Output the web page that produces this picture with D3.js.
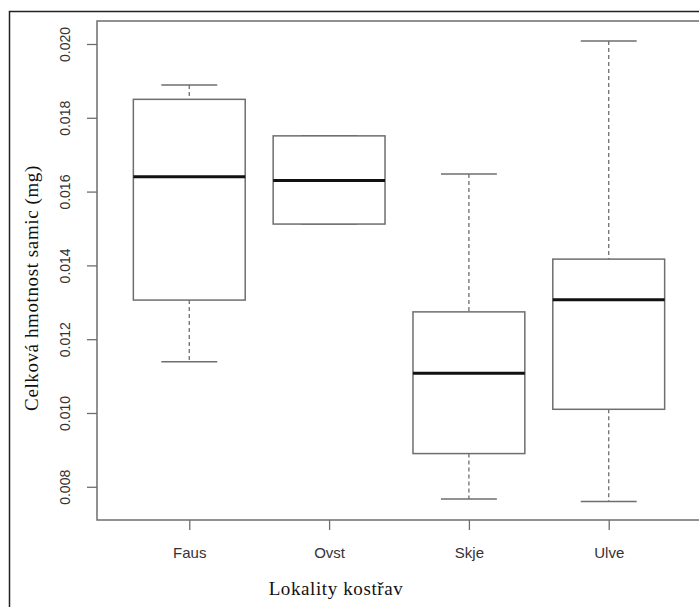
<!DOCTYPE html>
<html>
<head>
<meta charset="utf-8">
<script src="https://cdn.jsdelivr.net/npm/d3@7"></script>
<style>
  body { margin: 0; background: #fff; }
  svg { display: block; }
</style>
</head>
<body>
<div id="chart"></div>
<script>
// box plot data
const categories = ["Faus", "Ovst", "Skje", "Ulve"];
const whiskerLow = [0.01139, 0.01512, 0.00767, 0.00760];
const q1 = [0.01306, 0.01512, 0.00890, 0.01010];
const median = [0.01640, 0.01630, 0.01108, 0.01307];
const q3 = [0.01850, 0.01751, 0.01274, 0.01417];
const whiskerHigh = [0.01889, 0.01751, 0.01648, 0.02008];
const yTicks = [0.008, 0.010, 0.012, 0.014, 0.016, 0.018, 0.020];

const width = 699, height = 613;
const plot = { left: 97, top: 21, right: 701, bottom: 520 };

const svg = d3.select("#chart")
  .append("svg")
  .attr("width", width)
  .attr("height", height);

// outer frame (only top and left visible)
svg.append("path")
  .attr("d", `M9.5,607 V11.5 H${width}`)
  .attr("fill", "none")
  .attr("stroke", "#222")
  .attr("stroke-width", 1.5);

// scales, like R: xlim 0.5..4.5 plus 4%
const x = d3.scaleLinear()
  .domain([0.34, 4.66])
  .range([plot.left, plot.right]);

const y = d3.scaleLinear()
  .domain([0.0071, 0.020623])
  .range([plot.bottom, plot.top]);

const boxW = x(1.4) - x(1);      // half of 0.8
const capW = x(1.2) - x(1);      // half of 0.4
const grey = "#6e6e6e";

const data = categories.map((c, i) => ({
  name: c, pos: i + 1,
  lo: whiskerLow[i], q1: q1[i], med: median[i], q3: q3[i], hi: whiskerHigh[i]
}));

// y axis
const yAxis = svg.append("g")
  .attr("transform", `translate(${plot.left},0)`)
  .call(d3.axisLeft(y).tickValues(yTicks).tickFormat(d3.format(".3f")).tickSize(10));
yAxis.select(".domain").remove();
yAxis.selectAll("line").attr("stroke", grey).attr("stroke-width", 1.3);
yAxis.selectAll("text")
  .attr("transform", "rotate(-90)")
  .attr("x", 0)
  .attr("y", -32)
  .attr("dy", "0.35em")
  .style("text-anchor", "middle")
  .style("font-family", "Liberation Sans, Arial, sans-serif")
  .style("font-size", "14px")
  .attr("fill", "#333");

// x axis
const xAxis = svg.append("g")
  .attr("transform", `translate(0,${plot.bottom})`)
  .call(d3.axisBottom(x).tickValues([1, 2, 3, 4]).tickFormat((d, i) => categories[i]).tickSize(10));
xAxis.select(".domain").remove();
xAxis.selectAll("line").attr("stroke", grey).attr("stroke-width", 1.3);
xAxis.selectAll("text")
  .attr("y", 33)
  .attr("dy", "0.35em")
  .style("font-family", "Liberation Sans, Arial, sans-serif")
  .style("font-size", "15px")
  .attr("fill", "#333");

// plot box
svg.append("rect")
  .attr("x", plot.left)
  .attr("y", plot.top)
  .attr("width", plot.right - plot.left)
  .attr("height", plot.bottom - plot.top)
  .attr("fill", "none")
  .attr("stroke", grey)
  .attr("stroke-width", 1.5);

const boxes = svg.selectAll(".box")
  .data(data)
  .enter()
  .append("g")
  .attr("class", "box");

// whiskers
boxes.append("line")
  .attr("x1", d => x(d.pos)).attr("x2", d => x(d.pos))
  .attr("y1", d => y(d.hi)).attr("y2", d => y(d.q3))
  .attr("stroke", grey).attr("stroke-width", 1.3).attr("stroke-dasharray", "4,3");
boxes.append("line")
  .attr("x1", d => x(d.pos)).attr("x2", d => x(d.pos))
  .attr("y1", d => y(d.q1)).attr("y2", d => y(d.lo))
  .attr("stroke", grey).attr("stroke-width", 1.3).attr("stroke-dasharray", "4,3");

// caps
boxes.append("line")
  .attr("x1", d => x(d.pos) - capW).attr("x2", d => x(d.pos) + capW)
  .attr("y1", d => y(d.hi)).attr("y2", d => y(d.hi))
  .attr("stroke", grey).attr("stroke-width", 1.5);
boxes.append("line")
  .attr("x1", d => x(d.pos) - capW).attr("x2", d => x(d.pos) + capW)
  .attr("y1", d => y(d.lo)).attr("y2", d => y(d.lo))
  .attr("stroke", grey).attr("stroke-width", 1.5);

// boxes
boxes.append("rect")
  .attr("x", d => x(d.pos) - boxW)
  .attr("y", d => y(d.q3))
  .attr("width", boxW * 2)
  .attr("height", d => y(d.q1) - y(d.q3))
  .attr("fill", "#fff")
  .attr("stroke", grey)
  .attr("stroke-width", 1.5);

// medians
boxes.append("line")
  .attr("x1", d => x(d.pos) - boxW).attr("x2", d => x(d.pos) + boxW)
  .attr("y1", d => y(d.med)).attr("y2", d => y(d.med))
  .attr("stroke", "#111").attr("stroke-width", 3);

// axis titles
svg.append("text")
  .attr("transform", "translate(31,288) rotate(-90)")
  .attr("dy", "0.35em")
  .style("text-anchor", "middle")
  .style("font-family", "Liberation Serif, Times New Roman, serif")
  .style("font-size", "19px")
  .style("letter-spacing", "0.6px")
  .attr("fill", "#111")
  .text("Celková hmotnost samic (mg)");

svg.append("text")
  .attr("x", 336)
  .attr("y", 588)
  .attr("dy", "0.35em")
  .style("text-anchor", "middle")
  .style("font-family", "Liberation Serif, Times New Roman, serif")
  .style("font-size", "19px")
  .style("letter-spacing", "0.6px")
  .attr("fill", "#111")
  .text("Lokality kostřav");
</script>
</body>
</html>
